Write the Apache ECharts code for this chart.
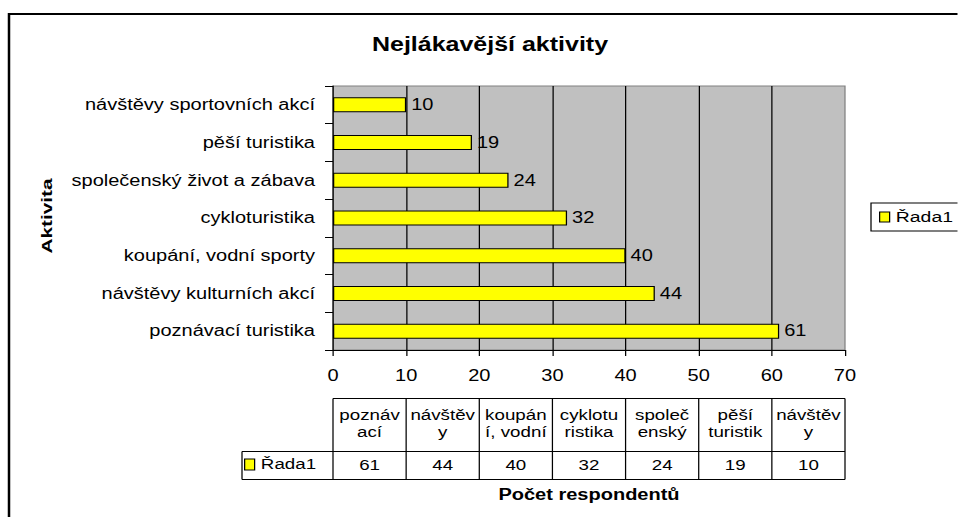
<!DOCTYPE html>
<html><head><meta charset="utf-8">
<script src="https://cdn.jsdelivr.net/npm/echarts@6/dist/echarts.min.js"></script>
<style>
html,body{margin:0;padding:0;background:#fff;overflow:hidden;width:958px;height:517px}
#c{width:766.4px;height:517px;transform:scaleX(1.25);transform-origin:0 0}
</style></head><body><div id="c"></div>
<script>
// ---- data ----
const categories = ['poznávací turistika', 'návštěvy kulturních akcí', 'koupání, vodní sporty', 'cykloturistika', 'společenský život a zábava', 'pěší turistika', 'návštěvy sportovních akcí'];
const values = [61, 44, 40, 32, 24, 19, 10];
const seriesName = 'Řada1';
const tableHeaders = ['poznáv\nací', 'návštěv\ny', 'koupán\ní, vodní', 'cyklotu\nristika', 'společ\nenský', 'pěší\nturistik', 'návštěv\ny'];
const xMin = 0, xMax = 70, xInterval = 10;
const titleText = 'Nejlákavější aktivity';
const yAxisTitle = 'Aktivita';
const xAxisTitle = 'Počet respondentů';

// ---- layout (reference is rendered with wide glyphs; page is stretched horizontally) ----
const S = 1.25, W = 958 / S, H = 517;
const px = v => v / S;
const FONT = '"Liberation Sans", Arial, sans-serif';

const chart = echarts.init(document.getElementById('c'), null, { renderer: 'svg', width: W, height: H });

const option = {
  animation: false,
  backgroundColor: '#fff',
  title: {
    text: titleText, left: px(490), top: 34, textAlign: 'center', padding: 0,
    textStyle: { fontFamily: FONT, fontSize: 20, fontWeight: 'bold', color: '#000' }
  },
  legend: [{
    data: [seriesName], left: px(871), top: 203, orient: 'vertical',
    padding: [6, 12, 6, px(8)], borderColor: '#000', borderWidth: 1, borderRadius: 0, backgroundColor: '#fff',
    icon: 'rect', itemWidth: px(10), itemHeight: 10,
    itemStyle: { color: '#ffff00', borderColor: '#000', borderWidth: 1 },
    textStyle: { fontFamily: FONT, fontSize: 15.5, color: '#000', padding: 0 }
  }, {
    data: [seriesName], left: px(244), top: 457, orient: 'vertical', padding: 0,
    icon: 'rect', itemWidth: px(10), itemHeight: 11,
    itemStyle: { color: '#ffff00', borderColor: '#000', borderWidth: 1 },
    textStyle: { fontFamily: FONT, fontSize: 15, color: '#000', padding: 0 }
  }],
  grid: {
    left: px(333), right: W - px(845), top: 86, bottom: H - 350,
    show: true, backgroundColor: '#c0c0c0', borderColor: '#808080', borderWidth: 1,
    containLabel: false, outerBoundsMode: 'none'
  },
  xAxis: {
    type: 'value', min: xMin, max: xMax, interval: xInterval,
    axisLine: { show: true, lineStyle: { color: '#000', width: 1 } },
    axisTick: { show: true, length: 6, lineStyle: { color: '#000', width: 1 } },
    axisLabel: { fontFamily: FONT, fontSize: 16, color: '#000', margin: 18 },
    splitLine: { show: true, showMinLine: false, showMaxLine: false, lineStyle: { color: '#000', width: 1 } },
    name: xAxisTitle, nameLocation: 'middle', nameGap: 137,
    nameTextStyle: { fontFamily: FONT, fontSize: 16, fontWeight: 'bold', color: '#000' }
  },
  yAxis: {
    type: 'category', data: categories,
    axisLine: { show: true, lineStyle: { color: '#000', width: 1 } },
    axisTick: { show: true, length: px(8), lineStyle: { color: '#000', width: 1 } },
    axisLabel: { fontFamily: FONT, fontSize: 16, color: '#000', margin: px(18) },
    splitLine: { show: false }
  },
  series: [{
    type: 'bar', name: seriesName, data: values, barWidth: 15,
    itemStyle: { color: '#ffff00', borderColor: '#000', borderWidth: 1 },
    label: { show: true, position: 'right', distance: 4, fontFamily: FONT, fontSize: 16, color: '#000' }
  }]
};
chart.setOption(option);

// ---- data table + frame, positioned through the x axis scale ----
const colW = (xMax - xMin) / categories.length;
const xs = [];
for (let i = 0; i <= categories.length; i++) xs.push(chart.convertToPixel({ xAxisIndex: 0 }, xMin + i * colW));
const T = 398.5, M = 451.5, B = 479.5, L = px(242);
const lineStyle = { stroke: '#000', lineWidth: 1 };
const els = [];
els.push({ type: 'rect', silent: true, shape: { x: px(9), y: 14, width: 1000, height: 1000 }, style: { fill: 'none', stroke: '#000', lineWidth: 2 } });
els.push({ type: 'line', silent: true, shape: { x1: xs[0], y1: T, x2: xs[xs.length - 1], y2: T }, style: lineStyle });
els.push({ type: 'line', silent: true, shape: { x1: L, y1: M, x2: xs[xs.length - 1], y2: M }, style: lineStyle });
els.push({ type: 'line', silent: true, shape: { x1: L, y1: B, x2: xs[xs.length - 1], y2: B }, style: lineStyle });
els.push({ type: 'line', silent: true, shape: { x1: L, y1: M, x2: L, y2: B }, style: lineStyle });
xs.forEach(x => els.push({ type: 'line', silent: true, shape: { x1: x, y1: T, x2: x, y2: B }, style: lineStyle }));
categories.forEach((c, i) => {
  const cx = (xs[i] + xs[i + 1]) / 2;
  els.push({ type: 'text', silent: true, style: { text: tableHeaders[i], x: cx, y: (T + M) / 2 - 1, fill: '#000', font: '15px ' + FONT, align: 'center', verticalAlign: 'middle', lineHeight: 17 } });
  els.push({ type: 'text', silent: true, style: { text: String(values[i]), x: cx, y: (M + B) / 2, fill: '#000', font: '15px ' + FONT, align: 'center', verticalAlign: 'middle' } });
});
els.push({ type: 'text', silent: true, x: px(47.5), y: 216, rotation: Math.PI / 2, scaleX: 1.3, scaleY: 0.72,
  style: { text: yAxisTitle, x: 0, y: 0, fill: '#000', font: 'bold 16px ' + FONT, align: 'center', verticalAlign: 'middle' } });
chart.setOption({ graphic: { elements: els } });
</script></body></html>
